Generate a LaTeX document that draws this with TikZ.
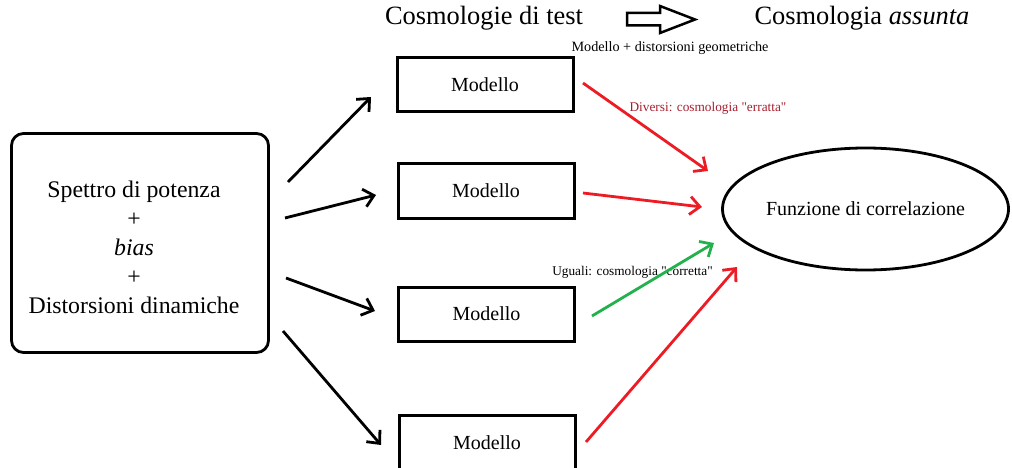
\documentclass[tikz,border=0pt]{standalone}
\usepackage{fontspec}
\setmainfont{Liberation Serif}[Ligatures=TeXOff]
\usetikzlibrary{arrows.meta,shapes.geometric}
\definecolor{arrred}{RGB}{237,28,36}
\definecolor{arrgreen}{RGB}{34,177,76}
\definecolor{labred}{RGB}{165,30,45}
\begin{document}
\begin{tikzpicture}[x=1pt,y=-1pt,
  modbox/.style={draw, line width=3pt, minimum width=176pt, minimum height=54pt, inner sep=0pt, font=\fontsize{20}{24}\selectfont},
  leftbox/.style={draw, line width=2.8pt, rounded corners=12pt, minimum width=257pt, minimum height=219pt, inner sep=0pt},
  lefttext/.style={align=center, inner sep=0pt, font=\fontsize{23.8}{29}\selectfont},
  funz/.style={draw, ellipse, line width=2.8pt, minimum width=286pt, minimum height=122pt, inner sep=0pt, font=\fontsize{20}{24}\selectfont},
  titlet/.style={inner sep=0pt, font=\fontsize{26.4}{30}\selectfont},
  smalllab/.style={inner sep=0pt, font=\fontsize{13.3}{16}\selectfont},
  conn/.style={line width=2.8pt, -{Straight Barb[length=10pt,width=18pt]}},
  hollow/.style={draw, line width=2.5pt, line join=miter, fill=white}
]
\useasboundingbox (0,0) rectangle (1012,468);

% titles
\node[titlet] (t1) at (484,18.5) {Cosmologie di test};
\node[titlet] (t2) at (862,18.5) {Cosmologia \textit{assunta}};
\draw[hollow] (627,13) -- (660,13) -- (660,6) -- (695,19.5) -- (660,33) -- (660,25.5) -- (627,25.5) -- cycle;

% left box
\node[leftbox] (L) at (140,243) {};
\node[lefttext] (Lt) at (134,247) {Spettro di potenza\\+\\\textit{bias}\\+\\Distorsioni dinamiche};

% model boxes
\node[modbox] (M1) at (485,85) {Modello};
\node[modbox] (M2) at (486,191) {Modello};
\node[modbox] (M3) at (486.5,314) {Modello};
\node[modbox, minimum height=55pt] (M4) at (487,442.5) {Modello};

% ellipse
\node[funz] (F) at (865.5,209) {Funzione di correlazione};

% labels
\node[smalllab, font=\fontsize{14.2}{17}\selectfont] (lab1) at (670,48) {Modello + distorsioni geometriche};
\node[smalllab, text=labred] (lab2) at (708,108) {Diversi: cosmologia "erratta"};
\node[smalllab] (lab3) at (632.5,272) {Uguali: cosmologia "corretta"};

% arrow end points
\coordinate (a1s) at (288,182); \coordinate (a1e) at (371,97);
\coordinate (a2s) at (285,218); \coordinate (a2e) at (376,195);
\coordinate (a3s) at (286,278); \coordinate (a3e) at (375,311);
\coordinate (a4s) at (283,331); \coordinate (a4e) at (381,445);
\coordinate (b1s) at (583,83);  \coordinate (b1e) at (708,171);
\coordinate (b2s) at (583,193); \coordinate (b2e) at (702,207);
\coordinate (b3s) at (592,316); \coordinate (b3e) at (714,243);
\coordinate (b4s) at (586,442); \coordinate (b4e) at (737,267);

% black arrows
\draw[conn] (a1s) -- (a1e);
\draw[conn] (a2s) -- (a2e);
\draw[conn] (a3s) -- (a3e);
\draw[conn] (a4s) -- (a4e);

% coloured arrows
\draw[conn, arrred] (b1s) -- (b1e);
\draw[conn, arrred] (b2s) -- (b2e);
\draw[conn, arrgreen] (b3s) -- (b3e);
\draw[conn, arrred] (b4s) -- (b4e);
\end{tikzpicture}
\end{document}
